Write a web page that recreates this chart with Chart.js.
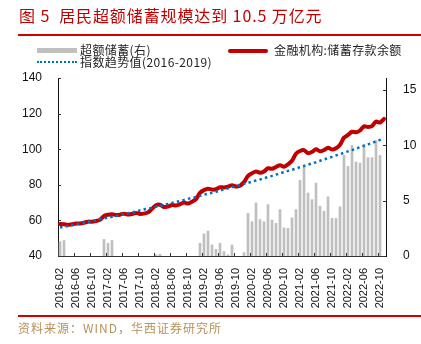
<!DOCTYPE html>
<html>
<head>
<meta charset="utf-8">
<script src="https://cdn.jsdelivr.net/npm/chart.js@4.4.0/dist/chart.umd.min.js"></script>
<style>
  body { margin: 0; background: #fff; }
  #wrap { position: relative; width: 421px; height: 344px; overflow: hidden; font-family: "Noto Sans CJK SC", "Liberation Sans", sans-serif; }
  #chart { position: absolute; left: 0; top: 0; }
  .title { position: absolute; left: 19px; top: 3px; font-size: 16px; color: #c00000; white-space: nowrap; letter-spacing: 0.9px; }
  .rule { position: absolute; left: 18px; width: 403px; height: 2px; background: #d40000; }
  .lg { position: absolute; font-size: 12px; color: #222; white-space: nowrap; line-height: 14px; letter-spacing: 0.4px; }
  .sw { position: absolute; }
  .src { position: absolute; left: 18px; top: 319px; font-size: 12px; color: #b8905a; white-space: nowrap; letter-spacing: 1px; }
</style>
</head>
<body>
<div id="wrap">
  <canvas id="chart" width="421" height="344"></canvas>
  <div class="title">图 5&nbsp; 居民超额储蓄规模达到 10.5 万亿元</div>
  <div class="rule" style="top:34px"></div>

  <div class="sw" style="left:37px;top:48px;width:40px;height:5px;background:#bfbfbf"></div>
  <div class="lg" style="left:80px;top:43px">超额储蓄(右)</div>
  <div class="sw" style="left:228px;top:49px;width:40px;height:4px;background:#c00000;border-radius:2px"></div>
  <div class="lg" style="left:274px;top:43px">金融机构:储蓄存款余额</div>
  <div class="sw" style="left:37px;top:61px;width:40px;height:0;border-top:2px dotted #0070c0"></div>
  <div class="lg" style="left:80px;top:55px">指数趋势值(2016-2019)</div>

  <div class="rule" style="top:315px"></div>
  <div class="src">资料来源：WIND，华西证券研究所</div>
</div>
<script>
'use strict';

// 2016-02 … 2022-11, monthly
const months = [
  '2016-02','2016-03','2016-04','2016-05','2016-06','2016-07','2016-08','2016-09','2016-10','2016-11','2016-12',
  '2017-01','2017-02','2017-03','2017-04','2017-05','2017-06','2017-07','2017-08','2017-09','2017-10','2017-11','2017-12',
  '2018-01','2018-02','2018-03','2018-04','2018-05','2018-06','2018-07','2018-08','2018-09','2018-10','2018-11','2018-12',
  '2019-01','2019-02','2019-03','2019-04','2019-05','2019-06','2019-07','2019-08','2019-09','2019-10','2019-11','2019-12',
  '2020-01','2020-02','2020-03','2020-04','2020-05','2020-06','2020-07','2020-08','2020-09','2020-10','2020-11','2020-12',
  '2021-01','2021-02','2021-03','2021-04','2021-05','2021-06','2021-07','2021-08','2021-09','2021-10','2021-11','2021-12',
  '2022-01','2022-02','2022-03','2022-04','2022-05','2022-06','2022-07','2022-08','2022-09','2022-10','2022-11',
];

// 金融机构:储蓄存款余额 (万亿元, left axis)
const deposits = [
  58, 57.8, 57.5, 57.8, 58.2, 58.3, 58.7, 59.3, 59.3, 59.7, 60.3,
  62.5, 63.2, 63.5, 63, 63.2, 63.8, 63.3, 63.6, 64.2, 63.6, 63.8, 64.5,
  66.5, 68.5, 68.8, 67.5, 67.8, 68.6, 68.4, 69, 70, 69.5, 70.5, 72,
  75.5, 77, 77.8, 77.3, 77.5, 78.6, 78.5, 79, 79.8, 79, 79.5, 81.5,
  85, 86.5, 87.5, 86.8, 87.5, 89.3, 89, 90, 91, 90.2, 91.5, 93.5,
  97.5, 99, 99.5, 97.8, 98.5, 100, 98.8, 99.5, 100.8, 99.8, 100.5, 102.5,
  106.5, 108, 109.8, 109.5, 110.5, 112.8, 112.5, 113, 115.5, 115, 117,
];

// 指数趋势值(2016-2019) (left axis)
const trend = [
  56.0, 56.4, 56.9, 57.3, 57.8, 58.3, 58.7, 59.2, 59.6, 60.1,
  60.6, 61.1, 61.6, 62.0, 62.5, 63.0, 63.5, 64.0, 64.5, 65.0,
  65.6, 66.1, 66.6, 67.1, 67.7, 68.2, 68.7, 69.3, 69.8, 70.4,
  70.9, 71.5, 72.1, 72.6, 73.2, 73.8, 74.4, 75.0, 75.5, 76.1,
  76.7, 77.4, 78.0, 78.6, 79.2, 79.8, 80.5, 81.1, 81.7, 82.4,
  83.0, 83.7, 84.4, 85.0, 85.7, 86.4, 87.1, 87.8, 88.4, 89.1,
  89.9, 90.6, 91.3, 92.0, 92.7, 93.5, 94.2, 95.0, 95.7, 96.5,
  97.2, 98.0, 98.8, 99.5, 100.3, 101.1, 101.9, 102.7, 103.5, 104.4,
  105.2, 106.0,
];

// 超额储蓄(右) (万亿元, right axis)
const excess = [
  1.3, 1.4, null, null, null, null, null, null, null, null, null,
  1.5, 1.15, 1.4, null, null, null, null, null, null, null, null, null,
  null, 0.1, 0.15, null, null, null, null, null, null, null, null, null,
  1.15, 2.0, 2.25, 1.0, 0.6, 1.15, 0.4, 0.1, 1.0, null, null, 0.3,
  3.85, 3.1, 4.8, 3.3, 3.1, 4.65, 3.25, 2.95, 4.2, 2.55, 2.5, 3.45,
  4.2, 6.85, 8.05, 5.7, 5.1, 6.6, 4.5, 4.05, 5.35, 3.4, 3.4, 4.45,
  9.1, 8.1, 10.0, 8.5, 8.4, 10.1, 8.9, 8.9, 10.45, 9.1, null,
];

const LEFT_TICKS = [40, 60, 80, 100, 120, 140];
const RIGHT_TICKS = [0, 5, 10, 15];
const LABEL_EVERY = 4;

const AXIS_FONT = { family: 'Liberation Sans, Arial, sans-serif', size: 12 };

// Excel-style inward tick marks
const innerTicks = {
  id: 'innerTicks',
  afterDraw(chart) {
    const { ctx, chartArea: a, scales } = chart;
    ctx.save();
    ctx.strokeStyle = '#333';
    ctx.lineWidth = 1;
    ctx.beginPath();
    LEFT_TICKS.forEach(v => {
      const y = Math.round(scales.y.getPixelForValue(v)) + 0.5;
      ctx.moveTo(a.left, y); ctx.lineTo(a.left + 3, y);
    });
    RIGHT_TICKS.forEach(v => {
      const y = Math.round(scales.y1.getPixelForValue(v)) + 0.5;
      ctx.moveTo(a.right, y); ctx.lineTo(a.right - 3, y);
    });
    const half = (scales.x.getPixelForValue(1) - scales.x.getPixelForValue(0)) / 2;
    months.forEach((m, i) => {
      if (i % LABEL_EVERY !== 0 || i === 0) return;
      const x = Math.round(scales.x.getPixelForValue(i) - half) + 0.5;
      ctx.moveTo(x, a.bottom); ctx.lineTo(x, a.bottom - 3);
    });
    ctx.stroke();
    ctx.restore();
  },
};

new Chart(document.getElementById('chart').getContext('2d'), {
  data: {
    labels: months,
    datasets: [
      {
        type: 'line', label: '指数趋势值(2016-2019)', data: trend, yAxisID: 'y', order: 0,
        borderColor: '#0070c0', borderWidth: 2.5, borderDash: [2.5, 3.2], pointRadius: 0, tension: 0, fill: false,
      },
      {
        type: 'line', label: '金融机构:储蓄存款余额', data: deposits, yAxisID: 'y', order: 1,
        borderColor: '#c00000', borderWidth: 4, pointRadius: 0, tension: 0.3, fill: false,
        borderCapStyle: 'round', borderJoinStyle: 'round',
      },
      {
        type: 'bar', label: '超额储蓄(右)', data: excess, yAxisID: 'y1', order: 2,
        backgroundColor: '#bfbfbf', barThickness: 2,
      },
    ],
  },
  options: {
    responsive: false,
    animation: false,
    layout: { padding: { top: 78, left: 0, right: 0, bottom: 0 } },
    plugins: { legend: { display: false }, tooltip: { enabled: false } },
    scales: {
      x: {
        grid: { display: false },
        border: { display: true, color: '#333', width: 1 },
        ticks: {
          autoSkip: false, minRotation: 90, maxRotation: 90, padding: 4,
          color: '#111', font: { family: AXIS_FONT.family, size: 11 },
          callback: (v, i) => (i % LABEL_EVERY === 0 ? months[i] : null),
        },
        afterFit: s => { s.height = 88; },
      },
      y: {
        position: 'left', min: 40, max: 140,
        grid: { display: false },
        border: { display: true, color: '#111', width: 1 },
        ticks: { stepSize: 20, padding: 8, color: '#111', font: AXIS_FONT },
        afterFit: s => { s.width = 58; },
      },
      y1: {
        position: 'right', min: 0, max: 16.1,
        grid: { display: false },
        border: { display: true, color: '#111', width: 1 },
        afterBuildTicks: s => { s.ticks = RIGHT_TICKS.map(v => ({ value: v })); },
        ticks: { padding: 9, color: '#111', font: AXIS_FONT },
        afterFit: s => { s.width = 35; },
      },
    },
  },
  plugins: [innerTicks],
});
</script>
</body>
</html>
